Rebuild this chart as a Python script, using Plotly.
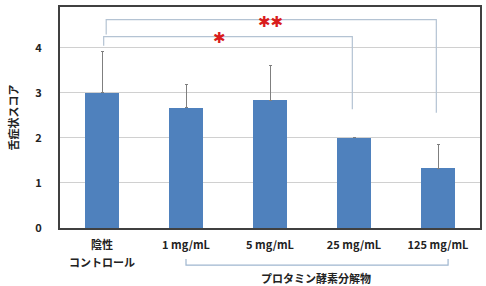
import plotly.graph_objects as go

categories = ["陰性<br>コントロール", "1 mg/mL", "5 mg/mL", "25 mg/mL", "125 mg/mL"]
values = [3.0, 2.67, 2.84, 2.0, 1.33]
err_plus = [0.92, 0.52, 0.76, 0.0, 0.52]
y_ticks = [0, 1, 2, 3, 4]
y_title = "舌症状スコア"
group_label = "プロタミン酵素分解物"
# significance brackets: (x_left, x_right, y_top, y_left_end, y_right_end, label, label_x, label_y)
brackets = [
    (0.02, 2.98, 4.25, 4.05, 2.64, "✱", 1.4, 4.22),
    (0.05, 3.98, 4.63, 4.30, 2.56, "✱✱", 2.0, 4.58),
]

xs = list(range(len(categories)))
fnt = "Noto Sans CJK JP, sans-serif"

fig = go.Figure()
fig.add_trace(go.Bar(
    x=xs, y=values, width=0.4,
    marker=dict(color="#4f81bd", line=dict(width=0)),
    error_y=dict(type="data", symmetric=False, array=err_plus,
                 arrayminus=[0] * len(values), color="#7f7f7f",
                 thickness=1, width=1.5),
))

shapes = []
bc = "#b4c3d3"
for xl, xr, yt, yle, yre, lab, lx, ly in brackets:
    shapes.append(dict(type="path", xref="x", yref="y",
                       path=f"M {xl},{yle} L {xl},{yt} L {xr},{yt} L {xr},{yre}",
                       line=dict(color=bc, width=1.2)))
    fig.add_annotation(x=lx, y=ly, xref="x", yref="y", text=lab,
                       showarrow=False,
                       font=dict(family="DejaVu Sans", size=15, color="#d91c1c"))

# first line of each category as tick label, further lines as annotations
first_lines = [c.split("<br>")[0] for c in categories]
for i, c in enumerate(categories):
    for j, extra in enumerate(c.split("<br>")[1:]):
        fig.add_annotation(x=xs[i], y=-0.152 - 0.07 * j, xref="x", yref="paper",
                           yanchor="middle", text=f"<b>{extra}</b>", showarrow=False,
                           font=dict(family=fnt, size=11, color="#222"))

# group bracket under x labels
shapes.append(dict(type="path", xref="x", yref="paper",
                   path="M 1.0,-0.14 L 1.0,-0.168 L 4.12,-0.168 L 4.12,-0.14",
                   line=dict(color="#9fb6cf", width=1.2)))
fig.add_annotation(x=2.55, y=-0.228, xref="x", yref="paper", yanchor="middle",
                   text=f"<b>{group_label}</b>",
                   showarrow=False, font=dict(family=fnt, size=11, color="#222"))

fig.update_layout(
    width=486, height=286,
    margin=dict(l=60, r=6, t=7, b=58),
    paper_bgcolor="white", plot_bgcolor="white",
    showlegend=False, shapes=shapes, bargap=0,
    font=dict(family=fnt, size=11, color="#222"),
)
fig.update_xaxes(range=[-0.5, 4.5], tickvals=xs,
                 ticktext=[f"<b>{c}</b>" for c in first_lines],
                 showgrid=False, showline=True, mirror=True,
                 linecolor="#404040", linewidth=2, ticks="", zeroline=False,
                 ticklabelstandoff=6, automargin=False,
                 tickfont=dict(family=fnt, size=11, color="#222"))
fig.update_yaxes(range=[0, 4.91], tickvals=y_ticks, ticktext=[f"<b>{t}</b>" for t in y_ticks],
                 showgrid=True, gridcolor="#d0d0d0", gridwidth=1,
                 showline=True, mirror=True, linecolor="#404040", linewidth=2,
                 ticks="", zeroline=False, ticklabelstandoff=14, automargin=False,
                 title=dict(text=f"<b>{y_title}</b>", standoff=14,
                            font=dict(family=fnt, size=11, color="#222")),
                 tickfont=dict(family=fnt, size=11, color="#222"))

fig.write_html("out.html")
